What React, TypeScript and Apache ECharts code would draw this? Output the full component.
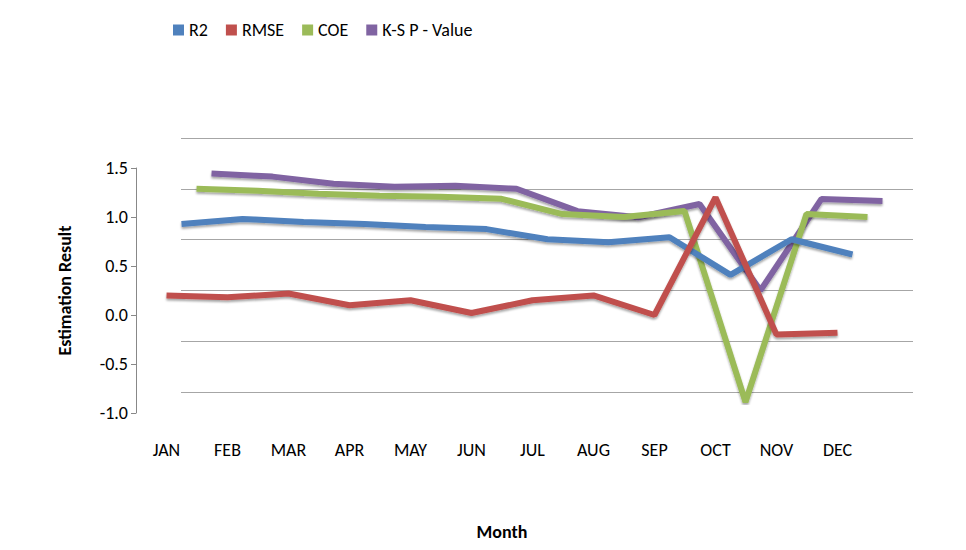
import { useEffect, useRef } from "react";
import * as echarts from "echarts";

const months = ["JAN", "FEB", "MAR", "APR", "MAY", "JUN", "JUL", "AUG", "SEP", "OCT", "NOV", "DEC"];
const r2 = [0.85, 0.9, 0.87, 0.85, 0.82, 0.8, 0.7, 0.67, 0.72, 0.35, 0.7, 0.55];
const rmse = [0.2, 0.18, 0.22, 0.1, 0.15, 0.02, 0.15, 0.2, 0.0, 1.2, -0.2, -0.18];
const coe = [1.1, 1.08, 1.05, 1.03, 1.02, 1.0, 0.85, 0.82, 0.88, -1.0, 0.85, 0.82];
const ks = [1.15, 1.12, 1.05, 1.02, 1.03, 1.0, 0.78, 0.72, 0.85, 0.0, 0.9, 0.88];

const font = "Calibri, Carlito, 'Liberation Sans', sans-serif";

// series drawn back-to-front; each sits in its own grid shifted for depth
const layers = [
  { name: "K-S P - Value", data: ks, color: "#8064A2", dx: 45, dy: -30 },
  { name: "COE", data: coe, color: "#9BBB59", dx: 30, dy: -20 },
  { name: "R2", data: r2, color: "#4F81BD", dx: 15, dy: -10 },
  { name: "RMSE", data: rmse, color: "#C0504D", dx: 0, dy: 0 },
];

export default function App() {
  const ref = useRef<HTMLDivElement>(null);

  useEffect(() => {
    if (!ref.current) return;
    const chart = echarts.init(ref.current, null, { renderer: "svg" });
    const front = layers.length - 1;
    chart.setOption({
      animation: false,
      backgroundColor: "#fff",
      textStyle: { fontFamily: font },
      legend: {
        top: 8,
        left: 160,
        itemWidth: 11,
        itemHeight: 11,
        icon: "rect",
        itemGap: 18,
        textStyle: { fontSize: 18, color: "#000", fontFamily: font },
        data: ["R2", "RMSE", "COE", "K-S P - Value"],
      },
      grid: layers.map((l) => ({
        left: 128 + l.dx,
        right: 90 - l.dx,
        top: 160 + l.dy,
        bottom: 120 - l.dy,
      })),
      xAxis: layers.map((l, i) => ({
        type: "category",
        gridIndex: i,
        data: months,
        boundaryGap: true,
        show: i === front,
        axisLine: { show: false },
        axisTick: { show: false },
        axisLabel: { fontSize: 18, color: "#000", margin: 28 },
        name: i === front ? "Month" : "",
        nameLocation: "middle",
        nameGap: 110,
        nameTextStyle: { fontSize: 18, fontWeight: "bold", color: "#000" },
        position: "bottom",
      })),
      yAxis: layers.map((l, i) => ({
        type: "value",
        gridIndex: i,
        min: -1,
        max: 1.5,
        interval: 0.5,
        show: i === 0 || i === front,
        axisLine: { show: i === front, lineStyle: { color: "#888" } },
        axisTick: { show: i === front, lineStyle: { color: "#888" } },
        axisLabel: {
          show: i === front,
          fontSize: 18,
          color: "#000",
          formatter: (v: number) => v.toFixed(1),
        },
        splitLine: { show: i === 0, lineStyle: { color: "#a6a6a6" } },
        name: i === front ? "Estimation Result" : "",
        nameLocation: "middle",
        nameGap: 62,
        nameTextStyle: { fontSize: 18, fontWeight: "bold", color: "#000" },
      })),
      series: layers.map((l, i) => ({
        name: l.name,
        type: "line",
        xAxisIndex: i,
        yAxisIndex: i,
        data: l.data,
        symbol: "none",
        color: l.color,
        lineStyle: {
          width: 6,
          color: l.color,
          shadowColor: "rgba(0,0,0,0.35)",
          shadowBlur: 2,
          shadowOffsetY: 2,
        },
      })),
    });
    return () => chart.dispose();
  }, []);

  return <div ref={ref} style={{ width: 950, height: 534 }} />;
}
